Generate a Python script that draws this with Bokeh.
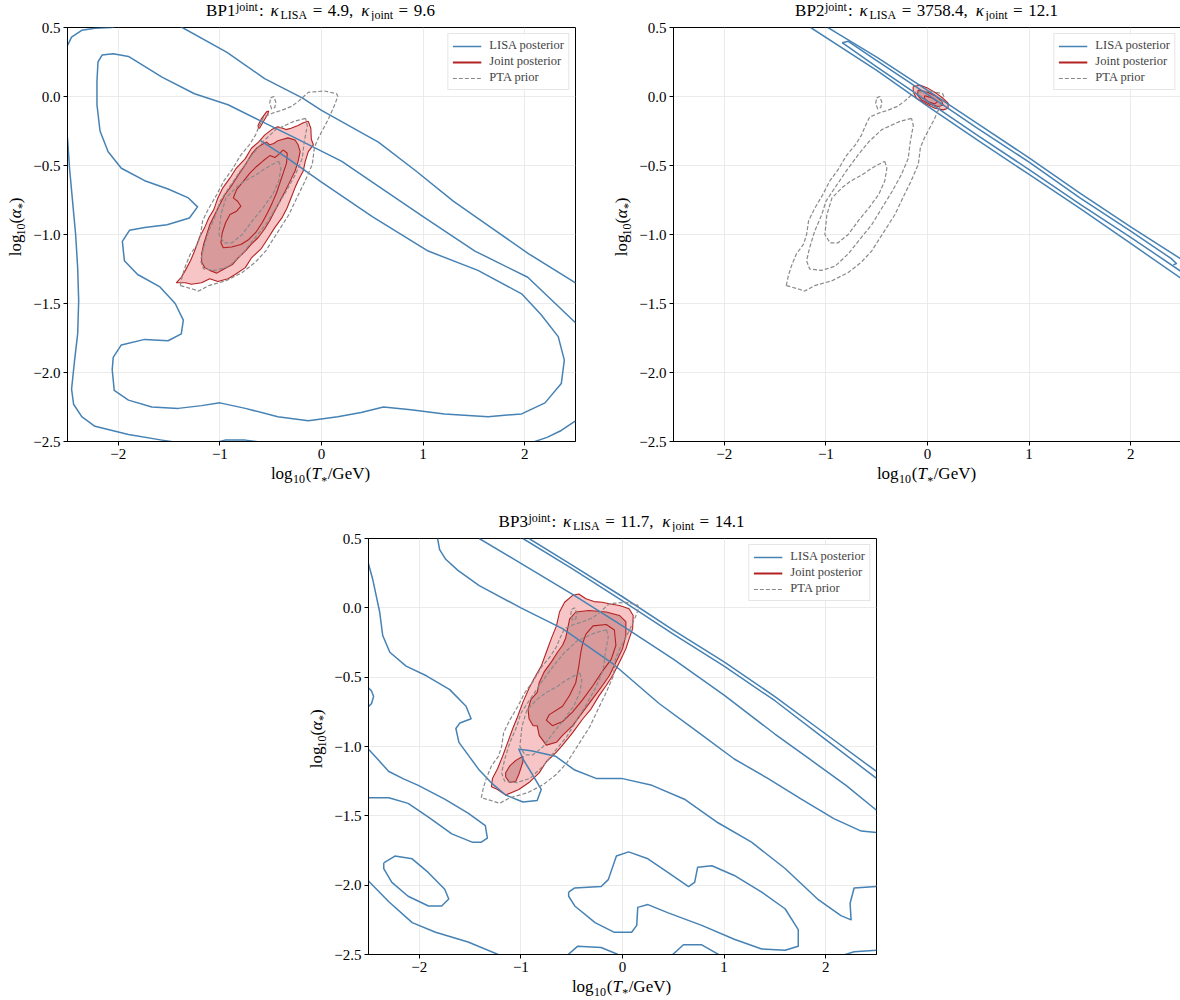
import math
from bokeh.plotting import figure
from bokeh.models import Range1d, FixedTicker, Label, Legend, LegendItem, Spacer
from bokeh.layouts import row, column
from bokeh.embed import file_html
from bokeh.resources import INLINE

# ------------------------------------------------------------------ data
x_ticks = [-2, -1, 0, 1, 2]
x_tick_labels = ["\u22122", "\u22121", "0", "1", "2"]
y_ticks = [-2.5, -2.0, -1.5, -1.0, -0.5, 0.0, 0.5]
y_tick_labels = ["\u22122.5", "\u22122.0", "\u22121.5", "\u22121.0", "\u22120.5", "0.0", "0.5"]

panel_names = ["BP1", "BP2", "BP3"]
kappa_lisa = ["4.9", "3758.4", "11.7"]
kappa_joint = ["9.6", "12.1", "14.1"]
legend_labels = ["LISA posterior", "Joint posterior", "PTA prior"]

# PTA prior contours (identical in all panels)
pta_outer = [(-1.39,-1.37),(-1.37,-1.30),(-1.34,-1.23),(-1.29,-1.14),(-1.22,-1.07),(-1.19,-1.0),(-1.17,-0.90),
             (-1.11,-0.81),(-1.03,-0.71),(-0.96,-0.61),(-0.88,-0.53),(-0.80,-0.43),(-0.71,-0.35),(-0.65,-0.28),
             (-0.61,-0.21),(-0.57,-0.15),(-0.48,-0.12),(-0.39,-0.10),(-0.29,-0.07),(-0.22,-0.03),(-0.13,0.03),
             (0.03,0.04),(0.15,0.02),(0.16,0.0),(0.13,-0.06),(0.07,-0.16),(0.02,-0.23),(-0.03,-0.30),(-0.07,-0.37),
             (-0.09,-0.49),(-0.16,-0.61),(-0.24,-0.73),(-0.32,-0.855),(-0.42,-0.97),(-0.55,-1.12),(-0.65,-1.20),
             (-0.78,-1.275),(-0.94,-1.335),(-1.11,-1.37),(-1.21,-1.41),(-1.27,-1.395),(-1.39,-1.37)]
pta_small = [(-0.50,-0.01),(-0.47,0.0),(-0.45,-0.04),(-0.46,-0.08),(-0.49,-0.09),(-0.51,-0.05),(-0.50,-0.01)]
pta_mid = [(-0.157,-0.158),(-0.27,-0.18),(-0.45,-0.24),(-0.58,-0.33),(-0.68,-0.42),(-0.80,-0.54),(-0.91,-0.66),
           (-1.0,-0.76),(-1.04,-0.855),(-1.11,-0.975),(-1.16,-1.095),(-1.19,-1.19),(-1.16,-1.25),(-1.04,-1.26),
           (-0.91,-1.23),(-0.78,-1.14),(-0.65,-1.02),(-0.55,-0.93),(-0.45,-0.81),(-0.35,-0.69),(-0.26,-0.57),
           (-0.19,-0.45),(-0.17,-0.33),(-0.14,-0.21),(-0.157,-0.158)]
pta_inner = [(-0.42,-0.47),(-0.40,-0.52),(-0.42,-0.61),(-0.48,-0.71),(-0.58,-0.81),(-0.68,-0.90),(-0.78,-1.0),
             (-0.88,-1.06),(-0.96,-1.06),(-1.01,-1.0),(-0.99,-0.855),(-0.94,-0.735),(-0.84,-0.66),(-0.75,-0.61),
             (-0.65,-0.57),(-0.55,-0.52),(-0.45,-0.48),(-0.42,-0.47)]

# BP1 LISA posterior contours
bp1_lisa_a = [(-2.5,-0.30),(-2.48,-0.52),(-2.45,-0.76),(-2.42,-1.00),(-2.40,-1.24),(-2.39,-1.48),(-2.40,-1.72),
              (-2.43,-1.91),(-2.46,-2.12),(-2.44,-2.23),(-2.36,-2.32),(-2.23,-2.39),(-1.90,-2.45),(-1.57,-2.49),
              (-1.39,-2.51)]
bp1_lisa_b = [(-1.08,-2.515),(-0.95,-2.49),(-0.75,-2.49),(-0.50,-2.515)]
bp1_lisa_c = [(2.06,-2.51),(2.22,-2.47),(2.36,-2.42),(2.5,-2.35)]
bp1_lisa_d = [(-2.5,0.37),(-2.46,0.43),(-2.36,0.48),(-2.23,0.495),(-2.07,0.50),(-1.90,0.53),(-1.65,0.55),
              (-1.45,0.53),(-1.37,0.50),(-0.93,0.32),(-0.56,0.13),(-0.19,-0.01),(0.0,-0.10),(0.56,-0.33),
              (0.93,-0.54),(1.30,-0.76),(1.67,-0.95),(2.04,-1.14),(2.5,-1.35)]
bp1_lisa_e = [(2.5,-1.64),(2.03,-1.31),(1.51,-1.12),(1.0,-0.87),(0.5,-0.62),(0.2,-0.47),(-0.26,-0.30),
              (-0.59,-0.18),(-0.92,-0.06),(-1.25,0.02),(-1.57,0.14),(-1.90,0.29),(-2.05,0.31),(-2.16,0.30),
              (-2.20,0.25),(-2.21,0.11),(-2.21,-0.06),(-2.18,-0.25),(-2.10,-0.40),(-1.97,-0.52),(-1.74,-0.61),
              (-1.51,-0.67),(-1.31,-0.735),(-1.22,-0.80),(-1.30,-0.88),(-1.52,-0.93),(-1.74,-0.95),(-1.89,-0.97),
              (-1.96,-1.05),(-1.94,-1.19),(-1.81,-1.29),(-1.59,-1.38),(-1.44,-1.50),(-1.36,-1.62),(-1.38,-1.72),
              (-1.51,-1.77),(-1.74,-1.76),(-1.97,-1.80),(-2.05,-1.89),(-2.06,-1.98),(-2.04,-2.13),(-1.90,-2.20),
              (-1.67,-2.25),(-1.41,-2.26),(-1.18,-2.24),(-1.0,-2.22),(-0.75,-2.26),(-0.43,-2.32),(-0.13,-2.35),
              (0.16,-2.32),(0.39,-2.29),(0.61,-2.25),(0.88,-2.27),(1.21,-2.30),(1.64,-2.32),(1.97,-2.30),
              (2.20,-2.22),(2.36,-2.08),(2.39,-1.91),(2.33,-1.74),(2.16,-1.58),(1.97,-1.43),(1.54,-1.26),
              (1.05,-1.12),(0.5,-0.87),(0.0,-0.62),(-0.35,-0.44),(-0.6,-0.32)]

# BP1 joint posterior
bp1_joint_l1 = [(-0.13,-0.18),(-0.105,-0.23),(-0.10,-0.31),(-0.08,-0.35),(-0.13,-0.40),(-0.16,-0.47),(-0.18,-0.54),
                (-0.23,-0.61),(-0.26,-0.66),(-0.30,-0.735),(-0.34,-0.81),(-0.39,-0.88),(-0.46,-0.95),(-0.52,-1.02),
                (-0.59,-1.10),(-0.69,-1.17),(-0.75,-1.24),(-0.85,-1.29),(-0.92,-1.32),(-1.02,-1.34),(-1.10,-1.32),
                (-1.18,-1.35),(-1.28,-1.36),(-1.34,-1.35),(-1.43,-1.35),(-1.38,-1.31),(-1.34,-1.26),(-1.29,-1.19),
                (-1.26,-1.14),(-1.23,-1.08),(-1.20,-1.02),(-1.15,-0.95),(-1.11,-0.88),(-1.06,-0.82),(-1.02,-0.735),
                (-0.97,-0.66),(-0.90,-0.59),(-0.84,-0.52),(-0.75,-0.45),(-0.69,-0.375),(-0.62,-0.33),(-0.56,-0.28),
                (-0.49,-0.24),(-0.43,-0.22),(-0.38,-0.23),(-0.35,-0.24),(-0.30,-0.23),(-0.23,-0.21),(-0.18,-0.19)]
bp1_joint_island = [(-0.62,-0.23),(-0.625,-0.21),(-0.59,-0.16),(-0.54,-0.11),(-0.52,-0.105),(-0.53,-0.13),
                    (-0.57,-0.18),(-0.61,-0.23)]
bp1_joint_l2 = [(-0.33,-0.30),(-0.26,-0.315),(-0.23,-0.35),(-0.21,-0.40),(-0.23,-0.47),(-0.26,-0.54),(-0.31,-0.615),
                (-0.36,-0.69),(-0.41,-0.76),(-0.46,-0.83),(-0.51,-0.90),(-0.56,-0.96),(-0.62,-1.02),(-0.69,-1.07),
                (-0.75,-1.12),(-0.82,-1.17),(-0.88,-1.22),(-0.96,-1.25),(-1.03,-1.28),(-1.10,-1.26),(-1.15,-1.24),
                (-1.18,-1.20),(-1.18,-1.14),(-1.16,-1.07),(-1.13,-1.00),(-1.10,-0.93),(-1.05,-0.855),(-1.00,-0.78),
                (-0.95,-0.71),(-0.88,-0.64),(-0.82,-0.57),(-0.75,-0.495),(-0.69,-0.42),(-0.64,-0.375),(-0.59,-0.35),
                (-0.54,-0.33),(-0.51,-0.35),(-0.47,-0.34),(-0.43,-0.32),(-0.38,-0.31)]
bp1_joint_l3 = [(-0.377,-0.387),(-0.337,-0.411),(-0.344,-0.483),(-0.377,-0.555),(-0.41,-0.627),(-0.443,-0.699),
                (-0.485,-0.771),(-0.531,-0.843),(-0.584,-0.915),(-0.649,-0.987),(-0.715,-1.036),(-0.793,-1.072),
                (-0.885,-1.091),(-0.967,-1.096),(-0.99,-1.06),(-0.977,-0.987),(-0.944,-0.915),(-0.901,-0.855),
                (-0.836,-0.831),(-0.793,-0.795),(-0.826,-0.759),(-0.868,-0.735),(-0.836,-0.675),(-0.77,-0.615),
                (-0.705,-0.555),(-0.639,-0.507),(-0.574,-0.466),(-0.508,-0.428),(-0.459,-0.442),(-0.426,-0.423),
                (-0.377,-0.387)]

# BP2 LISA posterior
bp2_lisa_o1 = [(-0.98,0.50),(-0.87,0.45),(-0.5,0.285),(0,0.045),(0.5,-0.20),(1,-0.445),(1.5,-0.70),(2,-0.945),(2.5,-1.18)]
bp2_lisa_o2 = [(-1.15,0.50),(-0.5,0.19),(0,-0.07),(0.5,-0.32),(1,-0.565),(1.5,-0.81),(2,-1.065),(2.5,-1.32)]
bp2_lisa_i1 = [(-0.84,0.39),(-0.78,0.40),(-0.5,0.26),(0,0.015),(0.5,-0.235),(1,-0.475),(1.5,-0.735),(2,-0.975),
               (2.4,-1.175),(2.45,-1.21),(2.42,-1.22)]
bp2_lisa_i2 = [(-0.84,0.39),(-0.78,0.36),(-0.5,0.215),(0,-0.035),(0.5,-0.285),(1,-0.53),(1.5,-0.78),(2,-1.02),(2.5,-1.27)]

# BP2 joint posterior
bp2_joint_l1 = [(-0.141,0.071),(-0.076,0.083),(0.006,0.059),(0.088,0.023),(0.154,-0.013),(0.203,-0.049),
                (0.203,-0.085),(0.154,-0.097),(0.072,-0.085),(-0.027,-0.049),(-0.109,-0.013),(-0.141,0.035)]
bp2_joint_l2 = [(-0.092,0.047),(-0.01,0.035),(0.072,0.006),(0.138,-0.032),(0.154,-0.061),(0.105,-0.073),
                (0.023,-0.056),(-0.06,-0.025),(-0.099,0.011)]
bp2_joint_l3 = [(-0.027,0.006),(0.039,-0.008),(0.098,-0.037),(0.072,-0.054),(0.006,-0.037),(-0.033,-0.013),(-0.027,0.006)]

# BP3 LISA posterior
bp3_lisa_p1 = [(-0.92,0.5),(-0.5,0.31),(0,0.08),(0.5,-0.16),(1,-0.39),(1.5,-0.64),(2,-0.91),(2.5,-1.18)]
bp3_lisa_p2 = [(-0.98,0.5),(-0.5,0.285),(0,0.05),(0.5,-0.19),(1,-0.42),(1.5,-0.67),(2,-0.95),(2.5,-1.23)]
bp3_lisa_i = [(-1.41,0.50),(-1.0,0.32),(-0.5,0.10),(0,-0.13),(0.5,-0.37),(1.0,-0.63),(1.5,-0.91),(1.84,-1.09),
              (2.2,-1.28),(2.5,-1.46)]
bp3_lisa_h = [(-1.82,0.5),(-1.80,0.42),(-1.74,0.35),(-1.62,0.27),(-1.41,0.16),(-1.0,0.0),(-0.59,-0.15),(-0.1,-0.40),
              (0.36,-0.69),(0.75,-0.90),(1.10,-1.09),(1.43,-1.23),(1.76,-1.38),(2.08,-1.52),(2.35,-1.61),(2.5,-1.62)]
bp3_lisa_g = [(-2.52,0.37),(-2.46,0.21),(-2.39,-0.03),(-2.36,-0.20),(-2.29,-0.32),(-2.13,-0.42),(-1.93,-0.49),
              (-1.70,-0.59),(-1.54,-0.71),(-1.49,-0.80),(-1.60,-0.83),(-1.64,-0.87),(-1.61,-0.97),(-1.5,-1.08),
              (-1.41,-1.17),(-1.28,-1.27),(-1.15,-1.35),(-0.98,-1.40),(-0.84,-1.39),(-0.80,-1.31),(-0.88,-1.21),
              (-0.98,-1.09),(-1.02,-1.02),(-0.90,-1.03),(-0.66,-1.07),(-0.47,-1.17),(-0.26,-1.23),(-0.01,-1.23),
              (0.29,-1.28),(0.61,-1.38),(0.94,-1.55),(1.27,-1.69),(1.60,-1.88),(1.92,-2.10),(2.15,-2.22),
              (2.25,-2.25),(2.24,-2.13),(2.28,-2.02),(2.5,-2.01)]
bp3_lisa_a = [(-2.5,-1.02),(-2.40,-1.10),(-2.30,-1.18),(-2.15,-1.235),(-2.01,-1.28),(-1.75,-1.38),(-1.52,-1.48),
              (-1.35,-1.57),(-1.33,-1.66),(-1.39,-1.69),(-1.48,-1.69),(-1.68,-1.63),(-1.91,-1.51),(-2.11,-1.41),
              (-2.30,-1.37),(-2.5,-1.37)]
bp3_lisa_ell = [(-2.35,-1.84),(-2.24,-1.79),(-2.07,-1.81),(-1.91,-1.91),(-1.75,-2.03),(-1.71,-2.10),(-1.78,-2.15),
                (-1.91,-2.15),(-2.11,-2.08),(-2.27,-1.98),(-2.35,-1.88),(-2.35,-1.84)]
bp3_lisa_c = [(-2.5,-1.97),(-2.30,-2.12),(-2.07,-2.27),(-1.84,-2.34),(-1.52,-2.41),(-1.19,-2.51)]
bp3_lisa_d1 = [(-0.55,-2.51),(-0.44,-2.44),(-0.21,-2.45),(-0.01,-2.51)]
bp3_lisa_d2 = [(0.48,-2.51),(0.60,-2.43),(0.78,-2.43),(0.97,-2.51)]
bp3_lisa_d3 = [(2.15,-2.51),(2.28,-2.48),(2.5,-2.47)]
bp3_lisa_e = [(-0.53,-2.05),(-0.47,-2.02),(-0.21,-2.01),(-0.14,-1.96),(-0.06,-1.79),(0.06,-1.76),(0.25,-1.81),
              (0.45,-1.91),(0.65,-2.01),(0.71,-1.98),(0.74,-1.87),(0.88,-1.86),(1.10,-1.93),(1.37,-2.05),
              (1.60,-2.17),(1.73,-2.32),(1.73,-2.44),(1.60,-2.47),(1.37,-2.46),(1.10,-2.39),(0.78,-2.29),
              (0.45,-2.20),(0.25,-2.14),(0.15,-2.16),(0.14,-2.29),(0.09,-2.34),(-0.08,-2.34),(-0.27,-2.27),
              (-0.47,-2.15),(-0.53,-2.08),(-0.53,-2.05)]
bp3_lisa_bump = [(-2.51,-0.57),(-2.47,-0.60),(-2.45,-0.64),(-2.47,-0.69),(-2.51,-0.72)]

# BP3 joint posterior
bp3_joint_l1 = [(-0.62,-0.03),(-0.57,0.04),(-0.49,0.09),(-0.43,0.10),(-0.36,0.065),(-0.28,0.045),(-0.20,0.04),
                (-0.13,0.03),(-0.03,0.017),(0.065,-0.007),(0.105,-0.055),(0.10,-0.15),(0.065,-0.224),(0.033,-0.296),
                (-0.03,-0.392),(-0.098,-0.49),(-0.16,-0.56),(-0.23,-0.633),(-0.31,-0.73),(-0.39,-0.80),(-0.49,-0.90),
                (-0.59,-0.99),(-0.65,-1.04),(-0.75,-1.11),(-0.82,-1.19),(-0.92,-1.26),(-1.02,-1.31),(-1.15,-1.35),
                (-1.23,-1.31),(-1.29,-1.29),(-1.28,-1.23),(-1.23,-1.16),(-1.18,-1.07),(-1.13,-0.97),(-1.08,-0.87),
                (-1.03,-0.78),(-0.98,-0.68),(-0.92,-0.58),(-0.87,-0.51),(-0.80,-0.42),(-0.75,-0.32),(-0.70,-0.22),
                (-0.65,-0.13)]
bp3_joint_l2 = [(-0.56,-0.22),(-0.52,-0.08),(-0.46,-0.03),(-0.33,-0.019),(-0.16,-0.03),(-0.03,-0.055),(0.033,-0.10),
                (0.033,-0.20),(0.0,-0.296),(-0.065,-0.392),(-0.13,-0.49),(-0.197,-0.56),(-0.295,-0.657),(-0.39,-0.75),
                (-0.49,-0.85),(-0.59,-0.92),(-0.65,-0.97),(-0.75,-0.99),(-0.82,-0.92),(-0.84,-0.85),(-0.88,-0.85),
                (-0.92,-0.80),(-0.93,-0.73),(-0.90,-0.66),(-0.84,-0.61),(-0.82,-0.54),(-0.77,-0.46),(-0.70,-0.39),
                (-0.64,-0.32),(-0.59,-0.27)]
bp3_joint_l2b = [(-1.15,-1.19),(-1.11,-1.14),(-1.05,-1.10),(-0.98,-1.07),(-0.98,-1.11),(-1.02,-1.20),(-1.05,-1.25),
                 (-1.11,-1.26),(-1.15,-1.22)]
bp3_joint_l3 = [(-0.36,-0.19),(-0.29,-0.13),(-0.16,-0.12),(-0.08,-0.16),(-0.065,-0.27),(-0.11,-0.37),(-0.20,-0.46),
                (-0.29,-0.56),(-0.39,-0.66),(-0.49,-0.75),(-0.59,-0.82),(-0.69,-0.85),(-0.75,-0.81),(-0.72,-0.77),
                (-0.59,-0.71),(-0.52,-0.63),(-0.46,-0.54),(-0.43,-0.42),(-0.41,-0.32),(-0.39,-0.25),(-0.36,-0.19)]

# ------------------------------------------------------------------ style
FONT = "Liberation Serif"
BLUE = "#4682b4"
RED = "#b22222"
FILL1 = "#f7c5c6"
FILL2 = "#d99a9b"
GRAY = "#8a8a8a"
FW = 508
NAN = float("nan")
MID = 0.33  # distance (in em) from alphabetic baseline to the text middle

CHAR_W = {' ': 0.25, ':': 0.278, '=': 0.564, '.': 0.25, ',': 0.25, 'B': 0.667, 'P': 0.556, 'L': 0.611,
          'I': 0.333, 'S': 0.556, 'A': 0.722, 'G': 0.722, 'V': 0.722, 'T': 0.556, 'j': 0.278, 'o': 0.5,
          'i': 0.278, 'n': 0.5, 't': 0.278, 'l': 0.278, 'g': 0.5, 'e': 0.444, '(': 0.333, ')': 0.333,
          '/': 0.278, '*': 0.5, '\u03ba': 0.55, '\u03b1': 0.55}


def text_w(s, size):
    return sum(CHAR_W.get(c, 0.5) for c in s) * size


def add_run(p, pieces, cx, base, vertical=False):
    """Pieces of text set side by side; base = baseline position of the main text."""
    widths = [text_w(pc[0], pc[1]) for pc in pieces]
    total = sum(widths) + sum(pc[4] for pc in pieces[:-1])
    pos = -total / 2.0
    for (t, s, sh, it, g), w in zip(pieces, widths):
        if vertical:
            x, y, ang = base - sh - MID * s, cx + pos, math.pi / 2
        else:
            x, y, ang = cx + pos, base + sh + MID * s, 0.0
        p.add_layout(Label(x=x, y=y, text=t, text_font=FONT, text_font_size=f"{s}px",
                           text_font_style="italic" if it else "normal",
                           text_baseline="middle", text_align="left",
                           angle=ang, text_color="black"))
        pos += w + g


def text_fig(w, h):
    f = figure(width=w, height=h, x_range=Range1d(0, w), y_range=Range1d(0, h), min_border=0,
               toolbar_location=None, output_backend="svg", x_axis_location=None, y_axis_location=None)
    f.outline_line_color = None
    f.grid.visible = False
    f.background_fill_color = "white"
    f.border_fill_color = "white"
    return f


def xs_ys(curves):
    return [[pt[0] for pt in c] for c in curves], [[pt[1] for pt in c] for c in curves]


def make_panel(idx, lisa, fill1, fill2, line3, fh, right_border, title_h, top_b, xlab_h, xlab_base, star_drop):
    bottom_b = 22
    p = figure(frame_width=FW, frame_height=fh, x_range=Range1d(-2.5, 2.5), y_range=Range1d(-2.5, 0.5),
               output_backend="svg", toolbar_location=None,
               min_border_left=36, min_border_right=right_border, min_border_top=top_b, min_border_bottom=bottom_b)
    p.background_fill_color = "white"
    p.border_fill_color = "white"
    p.outline_line_color = "black"
    p.outline_line_width = 1
    p.xaxis.ticker = FixedTicker(ticks=x_ticks)
    p.yaxis.ticker = FixedTicker(ticks=y_ticks)
    p.xaxis.major_label_overrides = {v: s for v, s in zip(x_ticks, x_tick_labels)}
    p.yaxis.major_label_overrides = {v: s for v, s in zip(y_ticks, y_tick_labels)}
    for ax in (p.xaxis[0], p.yaxis[0]):
        ax.minor_tick_line_color = None
        ax.major_tick_in = 0
        ax.major_tick_out = 4
        ax.major_tick_line_color = "black"
        ax.axis_line_color = "black"
        ax.major_label_text_font = FONT
        ax.major_label_text_font_size = "15px"
        ax.major_label_text_color = "black"
        ax.major_label_standoff = 3
    p.xgrid.grid_line_color = "#e6e6e6"
    p.ygrid.grid_line_color = "#e6e6e6"
    p.xgrid.grid_line_width = 0.8
    p.ygrid.grid_line_width = 0.8

    fx, fy = xs_ys(fill1)
    p.patches(fx, fy, fill_color=FILL1, fill_alpha=1.0, line_color=RED, line_width=1.1)
    fx, fy = xs_ys(fill2)
    p.patches(fx, fy, fill_color=FILL2, fill_alpha=1.0, line_color=RED, line_width=1.1)
    lx, ly = xs_ys(line3)
    p.multi_line(lx, ly, line_color=RED, line_width=1.1)
    bx, by = xs_ys(lisa)
    p.multi_line(bx, by, line_color=BLUE, line_width=1.5, line_join="round")
    gx, gy = xs_ys([pta_outer, pta_small, pta_mid, pta_inner])
    p.multi_line(gx, gy, line_color=GRAY, line_width=1.2, line_dash="4 2")

    r1 = p.line([NAN], [NAN], line_color=BLUE, line_width=1.5)
    r2 = p.line([NAN], [NAN], line_color=RED, line_width=2.2)
    r3 = p.line([NAN], [NAN], line_color=GRAY, line_width=1.2, line_dash="4 2")
    leg = Legend(items=[LegendItem(label=legend_labels[0], renderers=[r1]),
                        LegendItem(label=legend_labels[1], renderers=[r2]),
                        LegendItem(label=legend_labels[2], renderers=[r3])],
                 location="top_right", margin=6, padding=4, spacing=1,
                 glyph_width=29, glyph_height=14, label_height=14, label_standoff=8,
                 label_text_font=FONT, label_text_font_size="12.5px",
                 border_line_color="#cccccc", border_line_width=1,
                 background_fill_color="white", background_fill_alpha=0.85)
    p.add_layout(leg)

    total_w = 30 + 36 + FW + right_border
    cx = 66 + FW / 2.0
    tf = text_fig(total_w, title_h)
    title = [(panel_names[idx], 17, 0, False, 0.5), ("joint", 12, 5.8, False, 1.0), (":", 17, 0, False, 7),
             ("\u03ba", 17, 0, True, 0.5), ("LISA", 12, -2.2, False, 5.5), ("=", 17, 0, False, 5.5),
             (kappa_lisa[idx] + ",", 17, 0, False, 8), ("\u03ba", 17, 0, True, 0.5),
             ("joint", 12, -2.2, False, 5.5), ("=", 17, 0, False, 5.5), (kappa_joint[idx], 17, 0, False, 0)]
    add_run(tf, title, cx, 5.0)
    fig_h = top_b + fh + bottom_b
    yf = text_fig(30, fig_h)
    ylab = [("log", 17, 0, False, 0.3), ("10", 12, -3.3, False, 0.8), ("(", 17, 0, False, 0),
            ("\u03b1", 17, 0, True, 0.5), ("*", 12, -4.3, False, 0.3), (")", 17, 0, False, 0)]
    add_run(yf, ylab, bottom_b + fh / 2.0, 21, vertical=True)
    xf = text_fig(total_w, xlab_h)
    xlab = [("log", 17, 0, False, 0.3), ("10", 12, -3.5, False, 0.8), ("(", 17, 0, False, 0),
            ("T", 17, 0, True, 0.5), ("*", 12, -star_drop, False, 0.3), ("/GeV)", 17, 0, False, 0)]
    add_run(xf, xlab, cx, xlab_base)
    return column(tf, row(yf, p), xf)


c1 = make_panel(0, [bp1_lisa_a, bp1_lisa_b, bp1_lisa_c, bp1_lisa_d, bp1_lisa_e],
                [bp1_joint_l1, bp1_joint_island], [bp1_joint_l2], [bp1_joint_l3],
                414, 31, 21, 6, 28, 12, 5.5)
c2 = make_panel(1, [bp2_lisa_o1, bp2_lisa_o2, bp2_lisa_i1, bp2_lisa_i2],
                [bp2_joint_l1], [bp2_joint_l2], [bp2_joint_l3],
                414, 1, 21, 6, 28, 12, 5.5)
c3 = make_panel(2, [bp3_lisa_p1, bp3_lisa_p2, bp3_lisa_i, bp3_lisa_h, bp3_lisa_g, bp3_lisa_a, bp3_lisa_ell,
                    bp3_lisa_c, bp3_lisa_d1, bp3_lisa_d2, bp3_lisa_d3, bp3_lisa_e, bp3_lisa_bump],
                [bp3_joint_l1], [bp3_joint_l2, bp3_joint_l2b], [bp3_joint_l3],
                416, 10, 41, 6, 23, 7.5, 4.5)

layout = column(row(c1, c2), row(Spacer(width=301, height=508), c3))
open("out.html", "w").write(file_html(layout, INLINE))
